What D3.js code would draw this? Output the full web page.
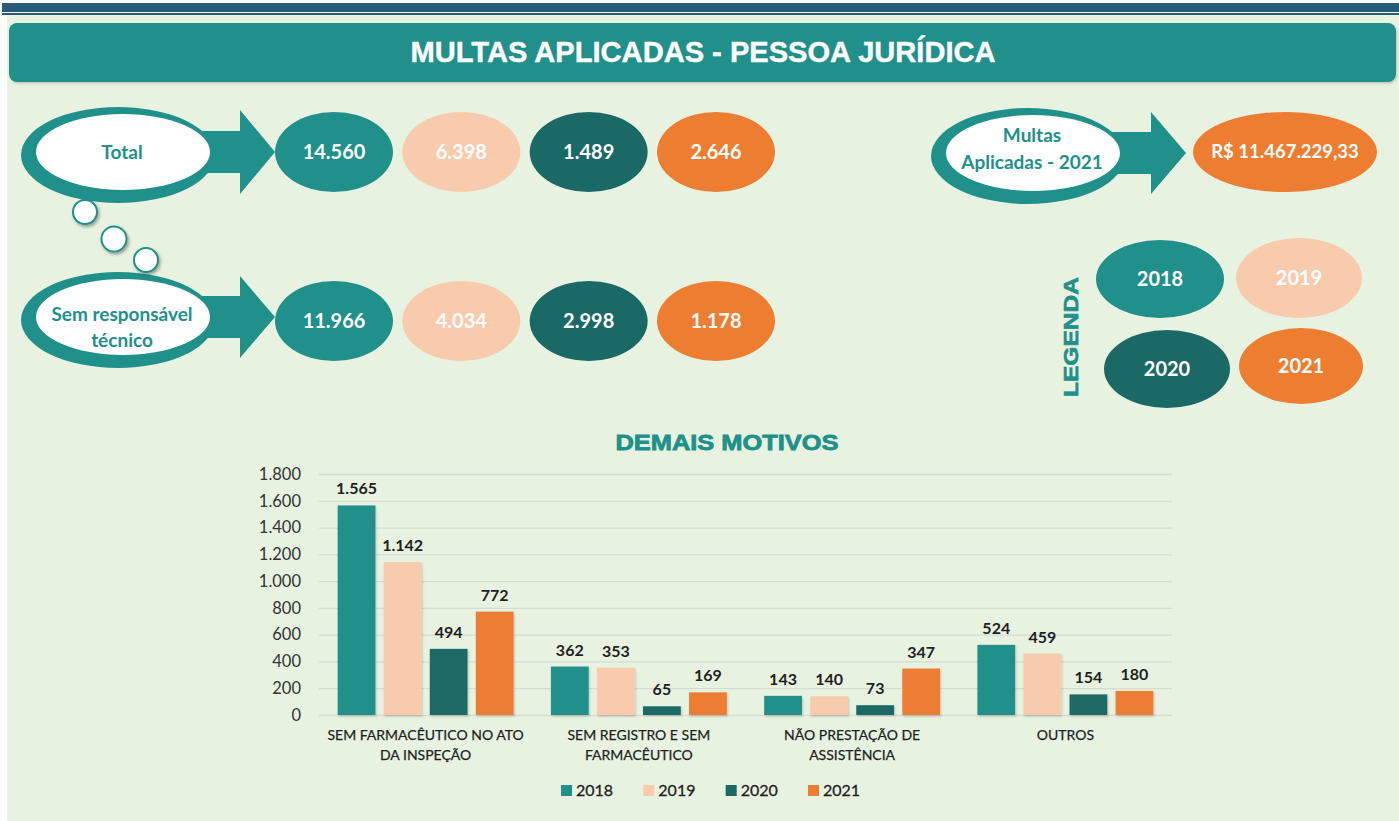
<!DOCTYPE html>
<html><head><meta charset="utf-8">
<script src="https://cdn.jsdelivr.net/npm/d3@7"></script>
<style>
html,body{margin:0;padding:0;background:#fff;}
svg{display:block;}
</style>
</head><body>
<svg id="c" width="1399" height="821"></svg>
<script>
// ---- data ----
const years = ["2018", "2019", "2020", "2021"];
const yearColors = ["#20908A", "#F7CBAC", "#1A6966", "#ED7D31"];
const totalValues = [14560, 6398, 1489, 2646];
const semRTValues = [11966, 4034, 2998, 1178];
const multas2021Label = "R$ 11.467.229,33";
const categories = ["SEM FARMACÊUTICO NO ATO DA INSPEÇÃO", "SEM REGISTRO E SEM FARMACÊUTICO", "NÃO PRESTAÇÃO DE ASSISTÊNCIA", "OUTROS"];
const categoryLines = [["SEM FARMACÊUTICO NO ATO", "DA INSPEÇÃO"], ["SEM REGISTRO E SEM", "FARMACÊUTICO"], ["NÃO PRESTAÇÃO DE", "ASSISTÊNCIA"], ["OUTROS"]];
const values2018 = [1565, 362, 143, 524];
const values2019 = [1142, 353, 140, 459];
const values2020 = [494, 65, 73, 154];
const values2021 = [772, 169, 347, 180];
const yTicks = [0, 200, 400, 600, 800, 1000, 1200, 1400, 1600, 1800];

const loc = d3.formatLocale({decimal: ",", thousands: ".", grouping: [3], currency: ["R$ ", ""]});
const fmt = loc.format(",d");

const svg = d3.select("#c");
const TEAL = "#20908A";
const LBL = "Lato, 'Open Sans', sans-serif";

// defs
const defs = svg.append("defs");
const sh = defs.append("filter").attr("id", "sh").attr("x", "-30%").attr("y", "-30%").attr("width", "170%").attr("height", "170%");
sh.append("feDropShadow").attr("dx", 1.5).attr("dy", 2).attr("stdDeviation", 1.5).attr("flood-color", "#000").attr("flood-opacity", 0.35);
const sh2 = defs.append("filter").attr("id", "sh2").attr("x", "-10%").attr("y", "-10%").attr("width", "120%").attr("height", "130%");
sh2.append("feDropShadow").attr("dx", 1).attr("dy", 1.5).attr("stdDeviation", 1.2).attr("flood-color", "#000").attr("flood-opacity", 0.18);

// background
svg.append("rect").attr("x", 0).attr("y", 0).attr("width", 1399).attr("height", 821).attr("fill", "#fdfdfd");
svg.append("rect").attr("x", 7).attr("y", 15).attr("width", 1392).attr("height", 806).attr("fill", "#E7F2E1");
// top navy bar
svg.append("rect").attr("x", 2).attr("y", 3).attr("width", 1397).attr("height", 9).attr("fill", "#285A7A");
svg.append("rect").attr("x", 2).attr("y", 13).attr("width", 1397).attr("height", 2).attr("fill", "#285A7A");

// title banner
svg.append("rect").attr("x", 9).attr("y", 23).attr("width", 1387).attr("height", 59).attr("rx", 8).attr("fill", TEAL).attr("filter", "url(#sh2)");
svg.append("text").attr("x", 703).attr("y", 62).attr("text-anchor", "middle")
  .attr("font-family", "'Liberation Sans', Arial, sans-serif").attr("font-weight", "bold").attr("font-size", 30)
  .attr("textLength", 585).attr("lengthAdjust", "spacingAndGlyphs")
  .attr("fill", "#fff").attr("stroke", "#fff").attr("stroke-width", 0.4).text("MULTAS APLICADAS - PESSOA JURÍDICA");

// callout helper
function callout(cx, cy, bodyX0, headX, tipX, halfBody, halfHead, lines, fs, textY, lineGap) {
  const g = svg.append("g");
  const p = d3.path();
  p.moveTo(bodyX0, cy - halfBody); p.lineTo(headX, cy - halfBody); p.lineTo(headX, cy - halfHead);
  p.lineTo(tipX, cy); p.lineTo(headX, cy + halfHead); p.lineTo(headX, cy + halfBody); p.lineTo(bodyX0, cy + halfBody); p.closePath();
  g.append("path").attr("d", p.toString()).attr("fill", TEAL);
  g.append("ellipse").attr("cx", cx).attr("cy", cy + 3).attr("rx", 97).attr("ry", 48).attr("fill", TEAL);
  g.append("ellipse").attr("cx", cx + 5).attr("cy", cy).attr("rx", 87).attr("ry", 38).attr("fill", "#fff");
  lines.forEach((l, i) => {
    g.append("text").attr("x", cx + 4).attr("y", textY + i * lineGap).attr("text-anchor", "middle")
      .attr("font-family", LBL).attr("font-weight", "bold").attr("font-size", fs).attr("fill", TEAL).text(l);
  });
}
callout(118, 152, 190, 240, 275, 21, 42, ["Total"], 19, 159, 0);
callout(118, 317, 190, 240, 275, 21, 41, ["Sem responsável", "técnico"], 19, 321, 26);
callout(1028, 153, 1100, 1151, 1186, 21, 41, ["Multas", "Aplicadas - 2021"], 19, 142, 27);

// thought bubbles
[[85, 212, 12], [114, 239, 12.5], [146, 260, 12]].forEach(b => {
  svg.append("circle").attr("cx", b[0]).attr("cy", b[1]).attr("r", b[2]).attr("fill", "#fff")
    .attr("stroke", TEAL).attr("stroke-width", 2).attr("filter", "url(#sh)");
});

// value ellipses rows
const xRow = d3.scalePoint().domain(years).range([334, 716]);
function row(vals, cy) {
  const g = svg.append("g");
  years.forEach((y, i) => {
    g.append("ellipse").attr("cx", xRow(y)).attr("cy", cy).attr("rx", 59).attr("ry", 40).attr("fill", yearColors[i]);
    g.append("text").attr("x", xRow(y)).attr("y", cy + 7).attr("text-anchor", "middle")
      .attr("font-family", LBL).attr("font-weight", "bold").attr("font-size", 20).attr("fill", "#fff").text(fmt(vals[i]));
  });
}
row(totalValues, 152);
row(semRTValues, 321);

// multas 2021 ellipse
svg.append("ellipse").attr("cx", 1285).attr("cy", 152).attr("rx", 92).attr("ry", 40).attr("fill", "#ED7D31");
svg.append("text").attr("x", 1285).attr("y", 158).attr("text-anchor", "middle")
  .attr("font-family", LBL).attr("font-weight", "bold").attr("font-size", 18.5).attr("fill", "#fff").text(multas2021Label);

// legend ellipses
const legPos = [[1160, 279, 64, 39], [1299, 278, 63, 40], [1167, 369, 63, 39], [1301, 366, 62, 38]];
years.forEach((y, i) => {
  const p = legPos[i];
  svg.append("ellipse").attr("cx", p[0]).attr("cy", p[1]).attr("rx", p[2]).attr("ry", p[3]).attr("fill", yearColors[i]);
  svg.append("text").attr("x", p[0]).attr("y", p[1] + 7).attr("text-anchor", "middle")
    .attr("font-family", LBL).attr("font-weight", "bold").attr("font-size", 20).attr("fill", "#fff").text(y);
});
svg.append("text").attr("transform", "translate(1078,337) rotate(-90)").attr("text-anchor", "middle")
  .attr("font-family", "'Liberation Sans', Arial, sans-serif").attr("font-weight", "bold").attr("font-size", 21)
  .attr("textLength", 120).attr("lengthAdjust", "spacingAndGlyphs")
  .attr("fill", TEAL).attr("stroke", TEAL).attr("stroke-width", 0.6).text("LEGENDA");

// ---- bar chart ----
const plot = {x0: 319, x1: 1172, y0: 715, y1: 474};
svg.append("text").attr("x", 727).attr("y", 450).attr("text-anchor", "middle")
  .attr("font-family", "'Liberation Sans', Arial, sans-serif").attr("font-weight", "bold").attr("font-size", 22)
  .attr("textLength", 223).attr("lengthAdjust", "spacingAndGlyphs")
  .attr("fill", TEAL).attr("stroke", TEAL).attr("stroke-width", 0.8).text("DEMAIS MOTIVOS");

const y = d3.scaleLinear().domain([0, 1800]).range([plot.y0, plot.y1]);
const x0 = d3.scaleBand().domain(categories).range([plot.x0, plot.x1]).paddingInner(0.175).paddingOuter(0.0875);
const x1 = d3.scaleBand().domain(years).range([0, x0.bandwidth()]).paddingInner(0.18).paddingOuter(0);

const series = [values2018, values2019, values2020, values2021];

// grid
const yAxis = d3.axisLeft(y).tickValues(yTicks).tickSize(-(plot.x1 - plot.x0)).tickFormat(d => fmt(d)).tickPadding(18);
const ga = svg.append("g").attr("transform", `translate(${plot.x0},0)`).call(yAxis);
ga.select(".domain").remove();
ga.selectAll(".tick line").attr("stroke", "#D5DCD2").attr("stroke-width", 1.3);
ga.selectAll(".tick text").attr("font-family", LBL).attr("font-size", 16.5).attr("fill", "#333");

// bars
const gb = svg.append("g");
categories.forEach((c, ci) => {
  years.forEach((yr, yi) => {
    const v = series[yi][ci];
    const bx = x0(c) + x1(yr);
    gb.append("rect").attr("x", bx).attr("y", y(v)).attr("width", x1.bandwidth()).attr("height", y(0) - y(v))
      .attr("fill", yearColors[yi]).attr("filter", "url(#sh2)");
    gb.append("text").attr("x", bx + x1.bandwidth() / 2).attr("y", y(v) - 11).attr("text-anchor", "middle")
      .attr("font-family", LBL).attr("font-weight", "bold").attr("font-size", 16).attr("fill", "#1f1f1f").text(fmt(v));
  });
});

// x axis labels
const xAxis = d3.axisBottom(x0).tickSize(0).tickFormat("");
svg.append("g").attr("transform", `translate(0,${plot.y0})`).call(xAxis).select(".domain").remove();
categories.forEach((c, ci) => {
  const t = svg.append("text").attr("text-anchor", "middle").attr("font-family", LBL).attr("font-size", 14)
    .attr("fill", "#1f1f1f").attr("stroke", "#1f1f1f").attr("stroke-width", 0.25);
  categoryLines[ci].forEach((l, li) => {
    t.append("tspan").attr("x", x0(c) + x0.bandwidth() / 2).attr("y", 740 + li * 20).text(l);
  });
});

// legend
const xLeg = d3.scalePoint().domain(years).range([561, 808]);
years.forEach((yr, i) => {
  svg.append("rect").attr("x", xLeg(yr)).attr("y", 785).attr("width", 11).attr("height", 11).attr("fill", yearColors[i]);
  svg.append("text").attr("x", xLeg(yr) + 15).attr("y", 796).attr("font-family", LBL).attr("font-size", 16)
    .attr("fill", "#1f1f1f").attr("stroke", "#1f1f1f").attr("stroke-width", 0.3).text(yr);
});
</script>
</body></html>
